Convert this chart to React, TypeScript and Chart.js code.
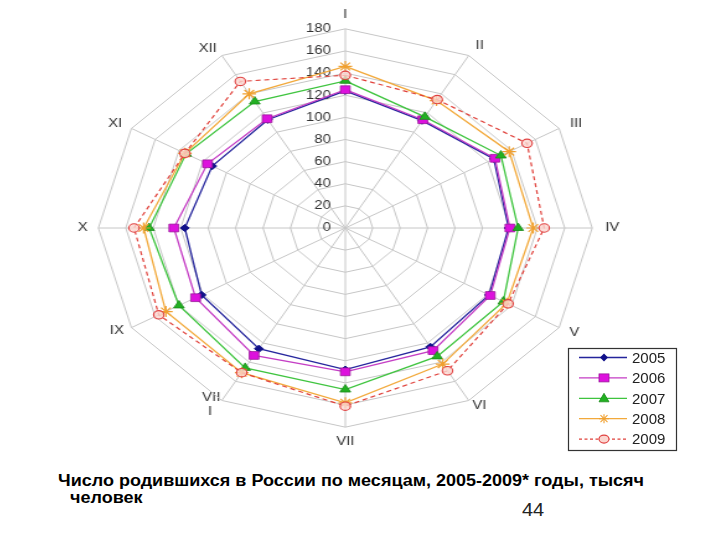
import React, { useEffect, useRef } from "react";
import { Chart, registerables } from "chart.js";

Chart.register(...registerables);

const MONTHS: (string | string[])[] = ["I", "II", "III", "IV", "V", "VI", "VII", ["VII  ", "I    "], "IX", "X", "XI", "XII"];
const YEARS = ["2005", "2006", "2007", "2008", "2009"];
const V2005 = [124, 112, 125, 119, 121, 124, 128, 126, 121, 117, 112, 113];
const V2006 = [125, 113, 126, 120, 122, 128, 130, 133, 126, 125, 116, 114];
const V2007 = [133, 116, 131, 126, 133, 134, 146, 146, 140, 143, 134, 132];
const V2008 = [146, 133, 138, 137, 136, 142, 158, 151, 151, 147, 135, 140];
const V2009 = [138, 134, 153, 145, 137, 149, 161, 151, 157, 154, 135, 153];
const R_MIN = 0;
const R_MAX = 180;
const R_STEP = 20;
const CAPTION_1 = "Число родившихся в России по месяцам, 2005-2009* годы, тысяч";
const CAPTION_2 = "человек";
const PAGE_NO = "44";

const FONT = "'Liberation Sans', Arial, sans-serif";
const SX = 1.241;
const CW = 442;
const CH = 442;
// distance of each month label from the outer ring (Chart.js adds 8px on top)
const LABEL_PAD = [6, 3, 2, 2.5, 1.5, -2, 6, -19, -1, 0.5, 0.5, 0];

function padTick(v: number): string {
  const s = String(v);
  return s + " ".repeat(2 * s.length + 7);
}

function Legend() {
  const rows = [0, 1, 2, 3, 4].map((i) => 10.5 + i * 20.4);
  return (
    <svg width={112} height={106} style={{ position: "absolute", left: 567, top: 347 }}>
      <rect x={1.5} y={1.5} width={108} height={102} fill="#fff" stroke="#333" strokeWidth={1.2} />
      <line x1={12} x2={60} y1={rows[0]} y2={rows[0]} stroke="#24249c" strokeWidth={1.3} />
      <polygon points={`37,${rows[0] - 4} 41,${rows[0]} 37,${rows[0] + 4} 33,${rows[0]}`} fill="#10108a" />
      <line x1={12} x2={60} y1={rows[1]} y2={rows[1]} stroke="#c43cc4" strokeWidth={1.3} />
      <rect x={32} y={rows[1] - 4} width={10} height={8} fill="#dd11dd" stroke="#9a1a9a" strokeWidth={0.8} />
      <line x1={12} x2={60} y1={rows[2]} y2={rows[2]} stroke="#3ec43e" strokeWidth={1.3} />
      <polygon points={`37,${rows[2] - 5} 42,${rows[2] + 3.5} 32,${rows[2] + 3.5}`} fill="#22b022" stroke="#1a8a1a" strokeWidth={0.8} />
      <line x1={12} x2={60} y1={rows[3]} y2={rows[3]} stroke="#f2a93b" strokeWidth={1.3} />
      <g stroke="#f0a030" strokeWidth={1.1}>
        <line x1={32} x2={42} y1={rows[3]} y2={rows[3]} />
        <line x1={37} x2={37} y1={rows[3] - 4.5} y2={rows[3] + 4.5} />
        <line x1={33.5} x2={40.5} y1={rows[3] - 3.5} y2={rows[3] + 3.5} />
        <line x1={33.5} x2={40.5} y1={rows[3] + 3.5} y2={rows[3] - 3.5} />
      </g>
      <line x1={12} x2={60} y1={rows[4]} y2={rows[4]} stroke="#e0403a" strokeWidth={1.2} strokeDasharray="3 2.5" />
      <ellipse cx={37} cy={rows[4]} rx={5} ry={4} fill="#fbd6d0" stroke="#e04040" strokeWidth={1.1} />
      {YEARS.map((y, i) => (
        <text key={y} x={65} y={rows[i] + 5.3} fontFamily={FONT} fontSize={15} fill="#222">
          {y}
        </text>
      ))}
    </svg>
  );
}

export default function App() {
  const ref = useRef<HTMLCanvasElement | null>(null);

  useEffect(() => {
    const canvas = ref.current;
    if (!canvas) return;
    const chart = new Chart(canvas, {
      type: "radar",
      data: {
        labels: MONTHS as any,
        datasets: [
          {
            label: YEARS[0],
            data: V2005,
            order: 5,
            fill: false,
            borderColor: "#24249c",
            borderWidth: 1.3,
            pointStyle: "rectRot",
            pointRadius: 3.6,
            pointBackgroundColor: "#10108a",
            pointBorderColor: "#10108a",
            pointBorderWidth: 1,
          },
          {
            label: YEARS[1],
            data: V2006,
            order: 4,
            fill: false,
            borderColor: "#c43cc4",
            borderWidth: 1.3,
            pointStyle: "rect",
            pointRadius: 5.5,
            pointBackgroundColor: "#dd11dd",
            pointBorderColor: "#9a1a9a",
            pointBorderWidth: 0.8,
          },
          {
            label: YEARS[2],
            data: V2007,
            order: 3,
            fill: false,
            borderColor: "#3ec43e",
            borderWidth: 1.3,
            pointStyle: "triangle",
            pointRadius: 5,
            pointBackgroundColor: "#22b022",
            pointBorderColor: "#1a8a1a",
            pointBorderWidth: 0.8,
          },
          {
            label: YEARS[3],
            data: V2008,
            order: 2,
            fill: false,
            borderColor: "#f2a93b",
            borderWidth: 1.3,
            pointStyle: "star",
            pointRadius: 5.5,
            pointBackgroundColor: "#f0a030",
            pointBorderColor: "#f0a030",
            pointBorderWidth: 1.2,
          },
          {
            label: YEARS[4],
            data: V2009,
            order: 1,
            fill: false,
            borderColor: "#e0403a",
            borderWidth: 1.2,
            borderDash: [4, 3],
            pointStyle: "circle",
            pointRadius: 4.2,
            pointBackgroundColor: "rgba(251,214,208,0.8)",
            pointBorderColor: "#e04040",
            pointBorderWidth: 1.1,
          },
        ],
      },
      options: {
        responsive: false,
        animation: false,
        layout: { padding: 0 },
        plugins: {
          legend: { display: false },
          tooltip: { enabled: false },
        },
        elements: { line: { tension: 0 } },
        scales: {
          r: {
            min: R_MIN,
            max: R_MAX,
            afterBuildTicks: (axis: any) => {
              axis.ticks = [{ value: R_MIN }, ...axis.ticks];
            },
            ticks: {
              stepSize: R_STEP,
              showLabelBackdrop: false,
              color: "#333",
              font: { family: FONT, size: 12 },
              callback: (v: any) => padTick(Number(v)),
            },
            grid: { color: "#c6c6c6", lineWidth: 1 },
            angleLines: { color: "#c6c6c6", lineWidth: 1 },
            pointLabels: {
              color: "#333",
              padding: (ctx: any) => LABEL_PAD[ctx.index] ?? 0,
              font: (ctx: any) => ({
                family: FONT,
                size: 12,
                lineHeight: Array.isArray(MONTHS[ctx.index]) ? 1.15 : 0.01,
              }),
            },
          },
        },
      },
    });
    return () => chart.destroy();
  }, []);

  const capStyle: React.CSSProperties = {
    display: "inline-block",
    fontFamily: FONT,
    fontWeight: "bold",
    fontSize: 16,
    lineHeight: "17px",
    color: "#000",
    transform: "scaleX(1.125)",
    transformOrigin: "left top",
  };

  return (
    <div style={{ position: "relative", width: 704, height: 524 }}>
      <canvas
        ref={ref}
        width={CW}
        height={CH}
        style={{
          position: "absolute",
          left: 74.5 - 8,
          top: 8 - 8,
          width: `${CW * SX}px`,
          height: `${CH}px`,
        }}
      />
      <div style={{ position: "absolute", left: 58 - 8, top: 472 - 8, whiteSpace: "nowrap" }}>
        <span style={capStyle}>{CAPTION_1}</span>
      </div>
      <div style={{ position: "absolute", left: 70 - 8, top: 489 - 8, whiteSpace: "nowrap" }}>
        <span style={capStyle}>{CAPTION_2}</span>
      </div>
      <div
        style={{
          position: "absolute",
          left: 522 - 8,
          top: 499 - 8,
          fontFamily: FONT,
          fontSize: 19,
          lineHeight: "22px",
          color: "#222",
          transform: "scaleX(1.05)",
          transformOrigin: "left top",
        }}
      >
        {PAGE_NO}
      </div>
      <div style={{ position: "absolute", left: -8, top: -8 }}>
        <Legend />
      </div>
    </div>
  );
}
